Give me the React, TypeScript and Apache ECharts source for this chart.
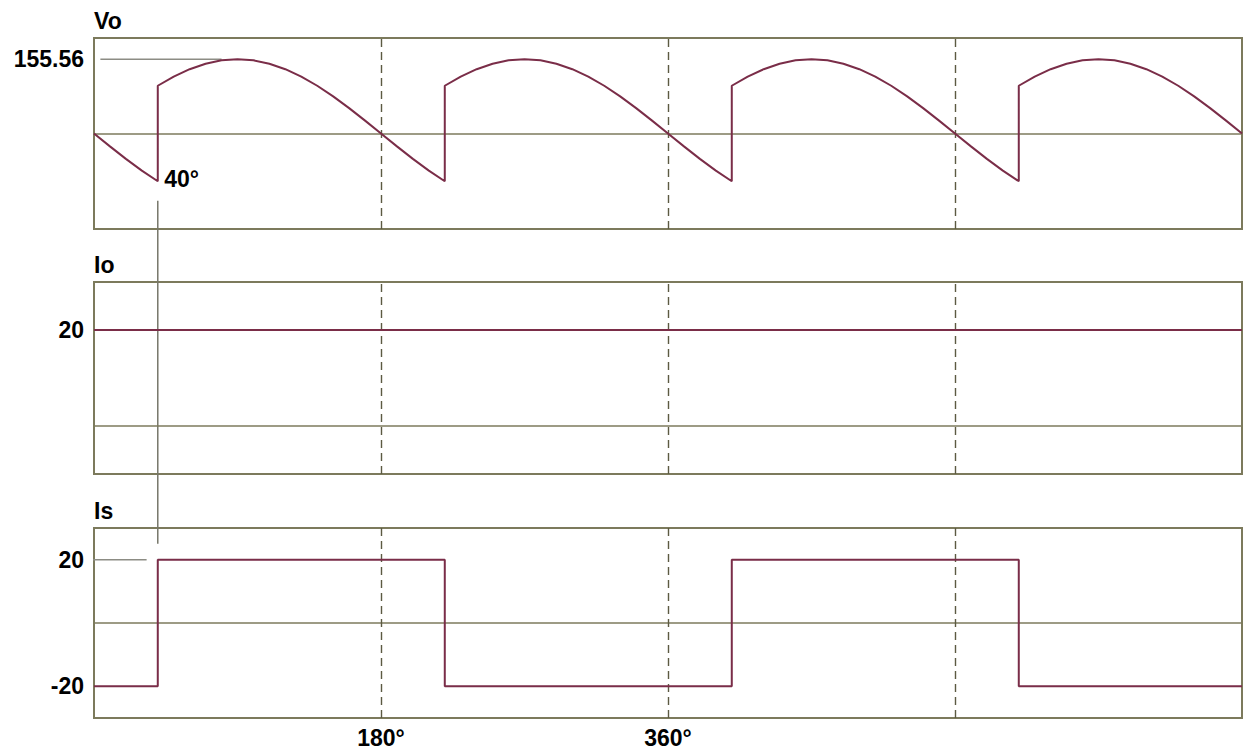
import React, { useEffect, useRef } from "react";
import * as echarts from "echarts";

// ---- data ----
const voAngles = [
  0, 10, 20, 30, 40,
  40, 50, 60, 70, 80, 90, 100, 110, 120, 130, 140, 150, 160, 170, 180, 190, 200, 210, 220,
  220, 230, 240, 250, 260, 270, 280, 290, 300, 310, 320, 330, 340, 350, 360, 370, 380, 390, 400,
  400, 410, 420, 430, 440, 450, 460, 470, 480, 490, 500, 510, 520, 530, 540, 550, 560, 570, 580,
  580, 590, 600, 610, 620, 630, 640, 650, 660, 670, 680, 690, 700, 710, 720,
];
const voValues = [
  0, -27.0, -53.2, -77.8, -100.0,
  100.0, 119.2, 134.7, 146.2, 153.2, 155.56, 153.2, 146.2, 134.7, 119.2, 100.0, 77.8, 53.2, 27.0, 0, -27.0, -53.2, -77.8, -100.0,
  100.0, 119.2, 134.7, 146.2, 153.2, 155.56, 153.2, 146.2, 134.7, 119.2, 100.0, 77.8, 53.2, 27.0, 0, -27.0, -53.2, -77.8, -100.0,
  100.0, 119.2, 134.7, 146.2, 153.2, 155.56, 153.2, 146.2, 134.7, 119.2, 100.0, 77.8, 53.2, 27.0, 0, -27.0, -53.2, -77.8, -100.0,
  100.0, 119.2, 134.7, 146.2, 153.2, 155.56, 153.2, 146.2, 134.7, 119.2, 100.0, 77.8, 53.2, 27.0, 0,
];
const ioAngles = [0, 720];
const ioValues = [20, 20];
const isAngles = [0, 40, 40, 220, 220, 400, 400, 580, 580, 720];
const isValues = [-20, -20, 20, 20, -20, -20, 20, 20, -20, -20];

const panelTitles = ["Vo", "Io", "Is"];
const yTickValues = [[155.56], [20], [20, -20]];
const yTickLabels = [["155.56"], ["20"], ["20", "-20"]];
const xTickValues = [180, 360];
const dashedAngles = [180, 360, 540];
const firingAngle = 40;
const firingLabel = "40°";
const vmLeader = [[4, 155.56], [80, 155.56]];
const isLeader = [[-5, 20], [33, 20]];

const CURVE = "#7a2d48";
const FRAME = "#7c7a5c";
const LEADER = "#8c8c84";
const FONT = "'Liberation Sans', Arial, sans-serif";
const FS = 23;

export default function App() {
  const ref = useRef<HTMLDivElement>(null);
  useEffect(() => {
    if (!ref.current) return;
    const chart = echarts.init(ref.current, null, { renderer: "svg" });
    const grids = [
      { left: 94, top: 38, width: 1148, height: 191 },
      { left: 94, top: 282, width: 1148, height: 192 },
      { left: 94, top: 528, width: 1148, height: 190 },
    ];
    const yRanges = [
      [-200, 200],
      [-10, 30],
      [-30, 30],
    ];
    const zip = (a: number[], b: number[]) => a.map((x, i) => [x, b[i]]);
    const refLines = (withZero: boolean) => ({
      symbol: "none",
      silent: true,
      label: { show: false },
      data: [
        ...(withZero ? [{ yAxis: 0, lineStyle: { color: FRAME, type: "solid", width: 1.5 } }] : []),
        ...dashedAngles.map((a) => ({ xAxis: a, lineStyle: { color: "#5c5a42", type: [8, 5], width: 1.4 } })),
      ],
    });

    const option: any = {
      animation: false,
      textStyle: { fontFamily: FONT },
      grid: grids.map((g) => ({ ...g, show: true, borderColor: FRAME, borderWidth: 2, backgroundColor: "transparent" })),
      xAxis: [0, 1, 2].map((i) => ({
        type: "value",
        gridIndex: i,
        min: 0,
        max: 720,
        interval: 180,
        axisLine: { show: false },
        axisTick: { show: false },
        splitLine: { show: false },
        axisLabel:
          i === 2
            ? {
                show: true,
                customValues: xTickValues,
                formatter: (v: number) => v + "°",
                color: "#000",
                fontWeight: "bold",
                fontSize: FS,
                fontFamily: FONT,
                margin: 8,
              }
            : { show: false },
      })),
      yAxis: [0, 1, 2].map((i) => ({
        type: "value",
        gridIndex: i,
        min: yRanges[i][0],
        max: yRanges[i][1],
        axisLine: { show: false },
        axisTick: { show: false },
        splitLine: { show: false },
        name: panelTitles[i],
        nameLocation: "end",
        nameGap: 6,
        nameTextStyle: {
          align: "left",
          verticalAlign: "bottom",
          color: "#000",
          fontWeight: "bold",
          fontSize: FS,
          fontFamily: FONT,
        },
        axisLabel: {
          show: true,
          customValues: yTickValues[i],
          formatter: (v: number) => {
            const k = yTickValues[i].indexOf(v);
            return k >= 0 ? yTickLabels[i][k] : "";
          },
          color: "#000",
          fontWeight: "bold",
          fontSize: FS,
          fontFamily: FONT,
          margin: 10,
        },
      })),
      series: [
        {
          type: "line",
          xAxisIndex: 0,
          yAxisIndex: 0,
          data: zip(voAngles, voValues),
          showSymbol: false,
          symbol: "none",
          lineStyle: { color: CURVE, width: 2 },
          z: 5,
          markLine: refLines(true),
          markPoint: {
            symbol: "circle",
            symbolSize: 1,
            itemStyle: { color: "rgba(0,0,0,0)" },
            data: [
              {
                coord: [firingAngle, -100],
                label: {
                  show: true,
                  position: "right",
                  distance: 6,
                  offset: [0, -2],
                  formatter: firingLabel,
                  color: "#000",
                  fontWeight: "bold",
                  fontSize: FS,
                  fontFamily: FONT,
                },
              },
            ],
          },
        },
        {
          type: "line",
          xAxisIndex: 0,
          yAxisIndex: 0,
          data: vmLeader,
          showSymbol: false,
          symbol: "none",
          clip: false,
          lineStyle: { color: LEADER, width: 1.5 },
          z: 3,
        },
        {
          type: "line",
          xAxisIndex: 1,
          yAxisIndex: 1,
          data: zip(ioAngles, ioValues),
          showSymbol: false,
          symbol: "none",
          lineStyle: { color: CURVE, width: 2 },
          z: 5,
          markLine: refLines(true),
        },
        {
          type: "line",
          xAxisIndex: 2,
          yAxisIndex: 2,
          data: zip(isAngles, isValues),
          showSymbol: false,
          symbol: "none",
          lineStyle: { color: CURVE, width: 2 },
          z: 5,
          markLine: refLines(true),
        },
        {
          type: "line",
          xAxisIndex: 2,
          yAxisIndex: 2,
          data: isLeader,
          showSymbol: false,
          symbol: "none",
          clip: false,
          lineStyle: { color: LEADER, width: 1.5 },
          z: 3,
        },
      ],
    };
    chart.setOption(option);

    const p1 = chart.convertToPixel({ xAxisIndex: 0, yAxisIndex: 0 } as any, [firingAngle, -141]) as number[];
    const p2 = chart.convertToPixel({ xAxisIndex: 2, yAxisIndex: 2 } as any, [firingAngle, 25]) as number[];
    if (p1 && p2) {
      chart.setOption({
        graphic: [
          {
            type: "line",
            shape: { x1: p1[0], y1: p1[1], x2: p2[0], y2: p2[1] },
            style: { stroke: "#77776a", lineWidth: 1.5 },
            z: 2,
          },
        ],
      });
    }
    return () => chart.dispose();
  }, []);

  return (
    <div
      ref={ref}
      style={{ position: "fixed", left: 0, top: 0, width: 1243, height: 750, background: "#fff" }}
    />
  );
}
